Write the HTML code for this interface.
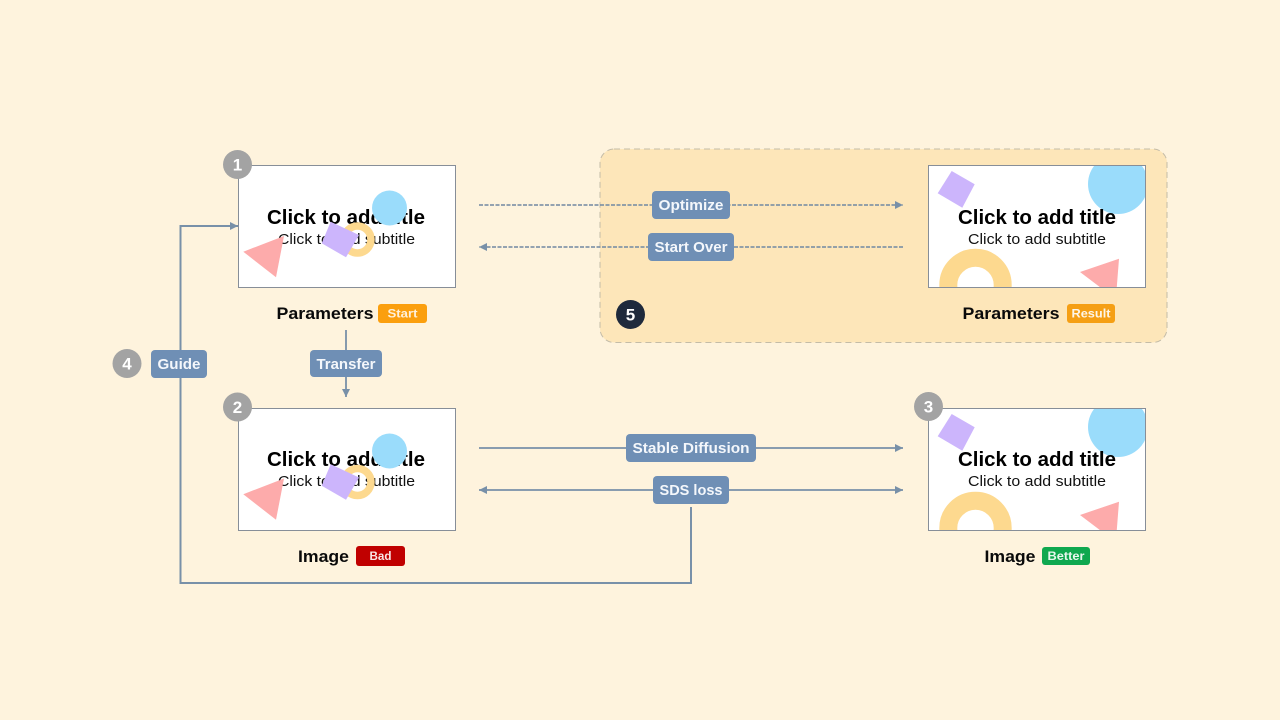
<!DOCTYPE html>
<html><head><meta charset="utf-8"><style>
html,body{margin:0;padding:0;background:#fef3dd;width:1280px;height:720px;overflow:hidden}
svg{display:block}
text{font-family:"Liberation Sans",sans-serif}
.t{font-size:20px;font-weight:700;fill:#000}
.s{font-size:15px;fill:#111}
.n{font-size:17px;font-weight:700;fill:#fff;text-anchor:middle}
.l{font-size:15px;font-weight:700;fill:#f4f7fb;text-anchor:middle}
.c{font-size:17px;font-weight:700;fill:#0a0a0a}
.b{font-size:12px;font-weight:700;fill:#fff;text-anchor:middle}
</style></head><body>
<svg width="1280" height="720" viewBox="0 0 1280 720" xmlns="http://www.w3.org/2000/svg">
<defs>
<clipPath id="c1"><rect x="928.5" y="165.5" width="217" height="122"/></clipPath>
<clipPath id="c2"><rect x="928.5" y="408.5" width="217" height="122"/></clipPath>
<marker id="ah" markerWidth="9" markerHeight="8" refX="8" refY="4" orient="auto-start-reverse" markerUnits="userSpaceOnUse"><path d="M0 0L8 4L0 8Z" fill="#7890a8"/></marker>
</defs>
<rect width="1280" height="720" fill="#fef3dd"/>
<rect x="600" y="149" width="567" height="193.500" rx="14" fill="#fde6b9" stroke="#c4bca8" stroke-width="1" stroke-dasharray="6 4"/>

<!-- connectors -->
<g fill="none" stroke="#7088a2">
<path d="M479 205H903" stroke-width="1.600" stroke-dasharray="4 1.500" marker-end="url(#ah)"/>
<path d="M903 247H479" stroke-width="1.600" stroke-dasharray="4 1.500" marker-end="url(#ah)"/>
</g>
<g fill="none" stroke="#7890a8">
<path d="M479 448H903" stroke-width="1.800" marker-end="url(#ah)"/>
<path d="M479 490H903" stroke-width="1.800" marker-start="url(#ah)" marker-end="url(#ah)"/>
<path d="M346 330V397" stroke-width="1.800" marker-end="url(#ah)"/>
<path d="M691 507V583H180.500V226H238" stroke-width="2" marker-end="url(#ah)"/>
</g>

<!-- card 1 -->
<rect x="238.500" y="165.500" width="217" height="122" fill="#fff" stroke="#878e98" stroke-width="1"/>
<text class="t" x="267" y="224" textLength="158" lengthAdjust="spacingAndGlyphs">Click to add title</text>
<text class="s" x="278" y="244" textLength="137" lengthAdjust="spacingAndGlyphs">Click to add subtitle</text>
<circle cx="389.500" cy="208" r="17.500" fill="#9adcfb"/>
<circle cx="357.500" cy="239.500" r="13.500" fill="none" stroke="#fdd98f" stroke-width="7.500"/>
<polygon points="330.700,221.700 359,235 346,257.300 321.700,243.300" fill="#ccb5fc"/>
<polygon points="284,236 243.300,251.700 276,277.300" fill="#fdabab"/>

<!-- card 2 -->
<rect x="238.500" y="408.500" width="217" height="122" fill="#fff" stroke="#878e98" stroke-width="1"/>
<text class="t" x="267" y="466" textLength="158" lengthAdjust="spacingAndGlyphs">Click to add title</text>
<text class="s" x="278" y="486" textLength="137" lengthAdjust="spacingAndGlyphs">Click to add subtitle</text>
<circle cx="389.500" cy="451" r="17.500" fill="#9adcfb"/>
<circle cx="357.500" cy="482" r="13.500" fill="none" stroke="#fdd98f" stroke-width="7.500"/>
<polygon points="330.700,464.200 359,477.500 346,499.800 321.700,485.800" fill="#ccb5fc"/>
<polygon points="284,478.500 243.300,494.200 276,519.800" fill="#fdabab"/>

<!-- card result -->
<rect x="928.500" y="165.500" width="217" height="122" fill="#fff"/>
<g clip-path="url(#c1)">
<circle cx="1118" cy="184" r="30" fill="#9adcfb"/>
<circle cx="975.500" cy="285" r="27.200" fill="none" stroke="#fdd98f" stroke-width="18"/>
<polygon points="1119,258.700 1080,272 1113,297 1116,297" fill="#fdabab"/>
</g>
<polygon points="951.700,171 974.700,184.300 962.300,207.700 937.700,193.300" fill="#ccb5fc"/>
<rect x="928.500" y="165.500" width="217" height="122" fill="none" stroke="#878e98" stroke-width="1"/>
<text class="t" x="958" y="224" textLength="158" lengthAdjust="spacingAndGlyphs">Click to add title</text>
<text class="s" x="968" y="244" textLength="138" lengthAdjust="spacingAndGlyphs">Click to add subtitle</text>

<!-- card better -->
<rect x="928.500" y="408.500" width="217" height="122" fill="#fff"/>
<g clip-path="url(#c2)">
<circle cx="1118" cy="427" r="30" fill="#9adcfb"/>
<circle cx="975.500" cy="528" r="27.200" fill="none" stroke="#fdd98f" stroke-width="18"/>
<polygon points="1119,501.700 1080,515 1113,540 1116,540" fill="#fdabab"/>
</g>
<polygon points="951.700,414 974.700,427.300 962.300,450.700 937.700,436.300" fill="#ccb5fc"/>
<rect x="928.500" y="408.500" width="217" height="122" fill="none" stroke="#878e98" stroke-width="1"/>
<text class="t" x="958" y="466" textLength="158" lengthAdjust="spacingAndGlyphs">Click to add title</text>
<text class="s" x="968" y="486" textLength="138" lengthAdjust="spacingAndGlyphs">Click to add subtitle</text>

<!-- number circles -->
<circle cx="237.500" cy="164.500" r="14.500" fill="#a3a3a3"/><text class="n" x="237.500" y="170.500">1</text>
<circle cx="237.500" cy="407" r="14.500" fill="#a3a3a3"/><text class="n" x="237.500" y="413">2</text>
<circle cx="928.500" cy="406.500" r="14.500" fill="#a3a3a3"/><text class="n" x="928.500" y="412.500">3</text>
<circle cx="127" cy="363.500" r="14.500" fill="#a3a3a3"/><text class="n" x="127" y="369.500">4</text>
<circle cx="630.500" cy="314.500" r="14.500" fill="#1f2a3c"/><text class="n" x="630.500" y="320.500">5</text>

<!-- labels -->
<g fill="#6f8fb5">
<rect x="652" y="191" width="78" height="28" rx="4"/>
<rect x="648" y="233" width="86" height="28" rx="4"/>
<rect x="626" y="434" width="130" height="28" rx="4"/>
<rect x="653" y="476" width="76" height="28" rx="4"/>
<rect x="310" y="350" width="72" height="27" rx="4"/>
<rect x="151" y="350" width="56" height="28" rx="4"/>
</g>
<text class="l" x="691" y="210" textLength="65" lengthAdjust="spacingAndGlyphs">Optimize</text>
<text class="l" x="691" y="252" textLength="73" lengthAdjust="spacingAndGlyphs">Start Over</text>
<text class="l" x="691" y="453" textLength="117" lengthAdjust="spacingAndGlyphs">Stable Diffusion</text>
<text class="l" x="691" y="495" textLength="63" lengthAdjust="spacingAndGlyphs">SDS loss</text>
<text class="l" x="346" y="369" textLength="59" lengthAdjust="spacingAndGlyphs">Transfer</text>
<text class="l" x="179" y="369" textLength="43" lengthAdjust="spacingAndGlyphs">Guide</text>

<!-- captions -->
<text class="c" x="276.500" y="319" textLength="97" lengthAdjust="spacingAndGlyphs">Parameters</text>
<rect x="378" y="304" width="49" height="19" rx="3" fill="#fb9f0e"/><text class="b" x="402.500" y="317.500" fill-opacity=".85" textLength="30" lengthAdjust="spacingAndGlyphs">Start</text>
<text class="c" x="962.500" y="319" textLength="97" lengthAdjust="spacingAndGlyphs">Parameters</text>
<rect x="1067" y="304" width="48" height="19" rx="3" fill="#f59f14"/><text class="b" x="1091" y="317.500" fill-opacity=".9" textLength="39" lengthAdjust="spacingAndGlyphs">Result</text>
<text class="c" x="298" y="562" textLength="51" lengthAdjust="spacingAndGlyphs">Image</text>
<rect x="356" y="546" width="49" height="20" rx="3" fill="#c00000"/><text class="b" x="380.500" y="560" fill-opacity=".9" textLength="22" lengthAdjust="spacingAndGlyphs">Bad</text>
<text class="c" x="984.500" y="562" textLength="51" lengthAdjust="spacingAndGlyphs">Image</text>
<rect x="1042" y="547" width="48" height="18" rx="3" fill="#0fa84f"/><text class="b" x="1066" y="560" fill-opacity=".9" textLength="37" lengthAdjust="spacingAndGlyphs">Better</text>
</svg>
</body></html>
